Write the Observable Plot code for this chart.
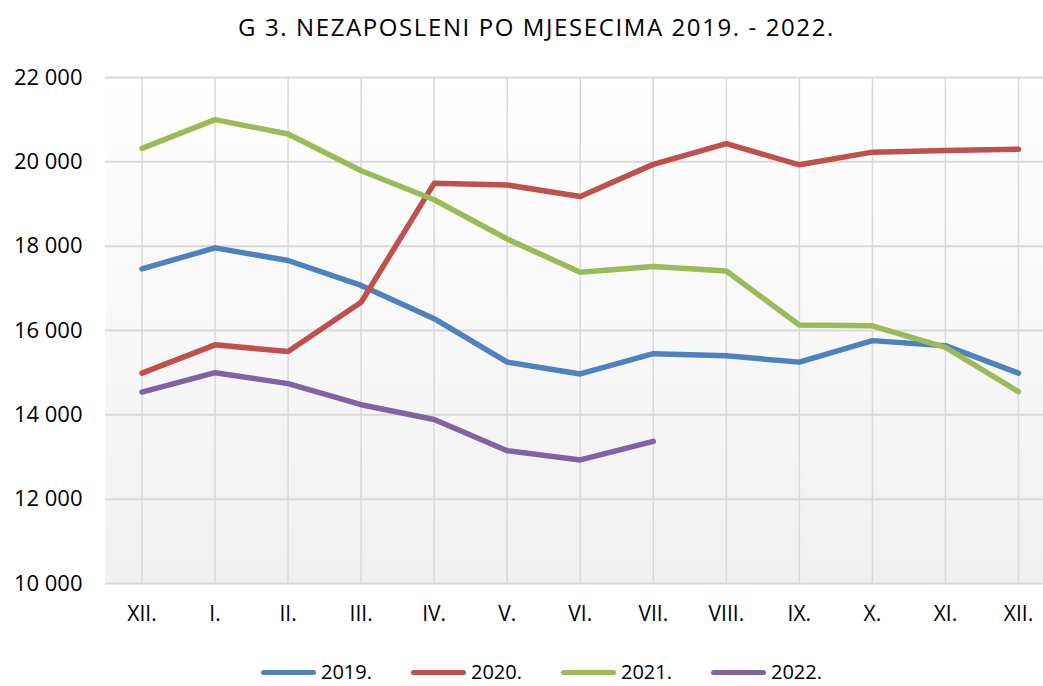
<!DOCTYPE html>
<html>
<head>
<meta charset="utf-8">
<script src="https://cdn.jsdelivr.net/npm/d3@7"></script>
<script src="https://cdn.jsdelivr.net/npm/@observablehq/plot@0.6"></script>
<style>
  html, body { margin: 0; padding: 0; background: #fff; overflow: hidden; width: 1043px; height: 686px; }
  body { font-family: "Open Sans", sans-serif; color: #000; }
  #title { height: 50px; line-height: 54px; text-align: center; font-size: 24px; letter-spacing: 1.6px; white-space: nowrap; padding-left: 30px; box-sizing: border-box; width: 1043px; }
  #chart svg { display: block; }
  #legend { display: flex; padding-left: 261px; padding-top: 22px; height: 20px; }
  .item { display: flex; align-items: center; width: 150px; font-size: 20px; line-height: 20px; }
  .swatch { width: 55px; height: 5px; border-radius: 3px; margin-right: 5px; }
</style>
</head>
<body>
<div id="title">G 3. NEZAPOSLENI PO MJESECIMA 2019. - 2022.</div>
<div id="chart"></div>
<div id="legend"></div>
<script>
// Category labels (x axis)
const months = ["XII.", "I.", "II.", "III.", "IV.", "V.", "VI.", "VII.", "VIII.", "IX.", "X.", "XI.", "XII."];
// Series names
const years = ["2019.", "2020.", "2021.", "2022."];
// Series values (number of unemployed)
const s2019 = [17460, 17960, 17660, 17070, 16280, 15250, 14970, 15450, 15400, 15250, 15760, 15640, 14990];
const s2020 = [14990, 15660, 15500, 16670, 19490, 19450, 19180, 19940, 20430, 19930, 20230, 20270, 20300];
const s2021 = [20320, 21000, 20660, 19790, 19100, 18170, 17380, 17520, 17410, 16130, 16110, 15600, 14550];
const s2022 = [14540, 15000, 14740, 14240, 13890, 13150, 12930, 13370];
// Y tick values
const yTicks = [10000, 12000, 14000, 16000, 18000, 20000, 22000];
const colors = ["#4f81bd", "#c0504d", "#9bbb59", "#8064a2"];

const series = [s2019, s2020, s2021, s2022];
const data = series.flatMap((vals, k) => vals.map((v, i) => ({i, value: v, year: years[k]})));
const idx = months.map((_, i) => i);
const fmt = d => d3.format(",")(d).replace(/,/g, " ");

const chart = Plot.plot({
  width: 1043,
  height: 590,
  marginTop: 27,
  marginBottom: 57,
  marginLeft: 105,
  marginRight: 0,
  style: {fontFamily: '"Open Sans", sans-serif', background: "transparent", overflow: "hidden", color: "#000"},
  x: {type: "linear", domain: [-0.5, 12.5], range: [105, 1054.5], label: null},
  y: {domain: [10000, 22000], label: null},
  color: {domain: years, range: colors},
  marks: [
    Plot.frame({fill: "url(#bgGrad)", stroke: null}),
    Plot.ruleX(idx, {stroke: "#d9d9d9", strokeWidth: 1.5}),
    Plot.ruleY(yTicks, {stroke: "#d9d9d9", strokeWidth: 2}),
    Plot.axisY(yTicks, {tickSize: 0, tickPadding: 23, fontSize: 22, tickFormat: fmt, label: null}),
    Plot.axisX(idx, {tickSize: 0, tickPadding: 23, fontSize: 21, tickFormat: i => months[i], label: null}),
    Plot.line(data, {x: "i", y: "value", z: "year", stroke: "year", strokeWidth: 5.5, strokeLinecap: "round", strokeLinejoin: "round"})
  ]
});

const ns = "http://www.w3.org/2000/svg";
const defs = document.createElementNS(ns, "defs");
defs.innerHTML = '<linearGradient id="bgGrad" x1="0" y1="0" x2="0" y2="1"><stop offset="0" stop-color="#ffffff"/><stop offset="1" stop-color="#f0f0f0"/></linearGradient>';
chart.insertBefore(defs, chart.firstChild);
document.getElementById("chart").appendChild(chart);

const legend = document.getElementById("legend");
years.forEach((y, k) => {
  const item = document.createElement("div");
  item.className = "item";
  const sw = document.createElement("span");
  sw.className = "swatch";
  sw.style.background = colors[k];
  const t = document.createElement("span");
  t.textContent = y;
  item.appendChild(sw);
  item.appendChild(t);
  legend.appendChild(item);
});
</script>
</body>
</html>
